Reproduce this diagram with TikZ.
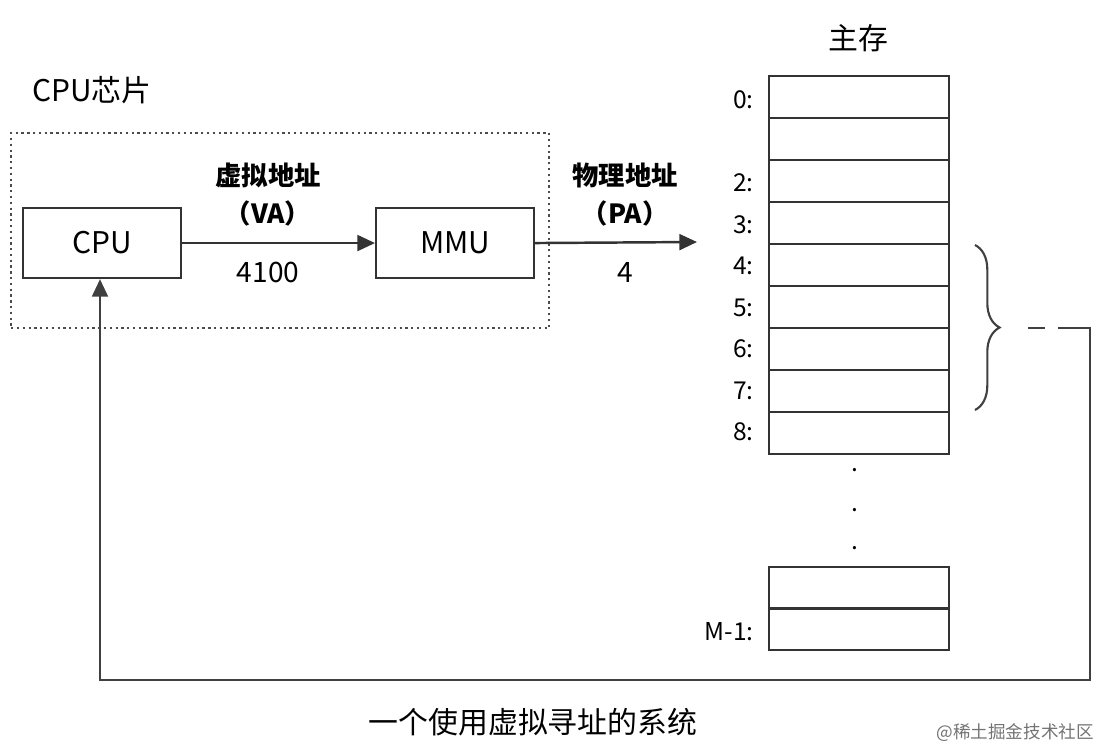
\documentclass[tikz,border=0pt]{standalone}
\usepackage{fontspec}
\setmainfont{Noto Sans CJK SC}
\usetikzlibrary{arrows.meta,decorations.pathreplacing}
\begin{document}
\begin{tikzpicture}[x=0.02cm,y=-0.02cm,
  box/.style={draw=black!80,line width=1.2pt,minimum width=3.16cm,minimum height=1.4cm,font=\fontsize{17}{20}\selectfont,anchor=north west,inner sep=0},
  cell/.style={draw=black!80,line width=1.2pt,minimum width=3.6cm,minimum height=0.84cm,anchor=north west,inner sep=0},
  lbl/.style={font=\fontsize{14}{16}\selectfont,anchor=east},
  bl/.style={font=\bfseries\fontsize{15}{18}\selectfont},
  num/.style={font=\fontsize{16}{18}\selectfont},
  arr/.style={line width=1.4pt,draw=black!80,-{Triangle[length=10pt,width=9pt]}}]
\useasboundingbox (0,0) rectangle (1104,750);
\node[anchor=west,font=\fontsize{17}{20}\selectfont] (chip) at (26,90) {CPU芯片};
\node[draw=black!70,dotted,line width=1.3pt,anchor=north west,minimum width=10.76cm,minimum height=3.9cm,inner sep=0] (dbox) at (10,132) {};
\node[box] (cpu) at (22,207) {CPU};
\node[box] (mmu) at (375,207) {MMU};
\coordinate (pa) at (697,242);
\draw[arr] (cpu.east) -- (mmu.west);
\draw[arr] (mmu.east) -- (pa);
\node[bl] (va1) at (268,175) {虚拟地址};
\node[bl] (va2) at (268,213) {（VA）};
\node[num] (va3) at (268,272) {4100};
\node[bl] (pa1) at (625,175) {物理地址};
\node[bl] (pa2) at (625,213) {（PA）};
\node[num] (pa3) at (625,272) {4};
\node[font=\fontsize{17}{20}\selectfont] (mem) at (858,38) {主存};
\foreach \i in {0,...,8}{
  \node[cell] (c\i) at (768,{75+42*\i}) {};
}
\node[cell] (cm2) at (768,566) {};
\node[cell] (cm1) at (768,607) {};
\foreach \i/\t in {0/0:,2/2:,3/3:,4/4:,5/5:,6/6:,7/7:,8/8:}{
  \node[lbl] (l\i) at (760,{100+41.5*\i}) {\t};
}
\node[lbl] (lm) at (760,632) {M-1:};
\foreach \y [count=\k] in {470,510,548}{\node[font=\fontsize{14}{16}\selectfont] (d\k) at (855,\y) {.};}
\draw[line width=1.2pt,black!75,decorate,decoration={brace,amplitude=14pt}] (975,245) -- (975,410);
\coordinate (b1) at (1028,328);
\coordinate (b2) at (1045,328);
\coordinate (b3) at (1058,328);
\coordinate (b4) at (1090,328);
\coordinate (b5) at (1090,680);
\coordinate (b6) at (100,680);
\draw[line width=1.2pt,black!75] (b1) -- (b2);
\draw[line width=1.4pt,black!75,-{Triangle[length=10pt,width=9pt]}] (b3) -- (b4) -- (b5) -- (b6) -- (cpu.south -| b6);
\node[font=\fontsize{17}{20}\selectfont] (cap) at (533,722) {一个使用虚拟寻址的系统};
\node[anchor=east,font=\fontsize{10}{12}\selectfont,text=black!55] (wm) at (1100,733) {@稀土掘金技术社区};
\end{tikzpicture}
\end{document}
